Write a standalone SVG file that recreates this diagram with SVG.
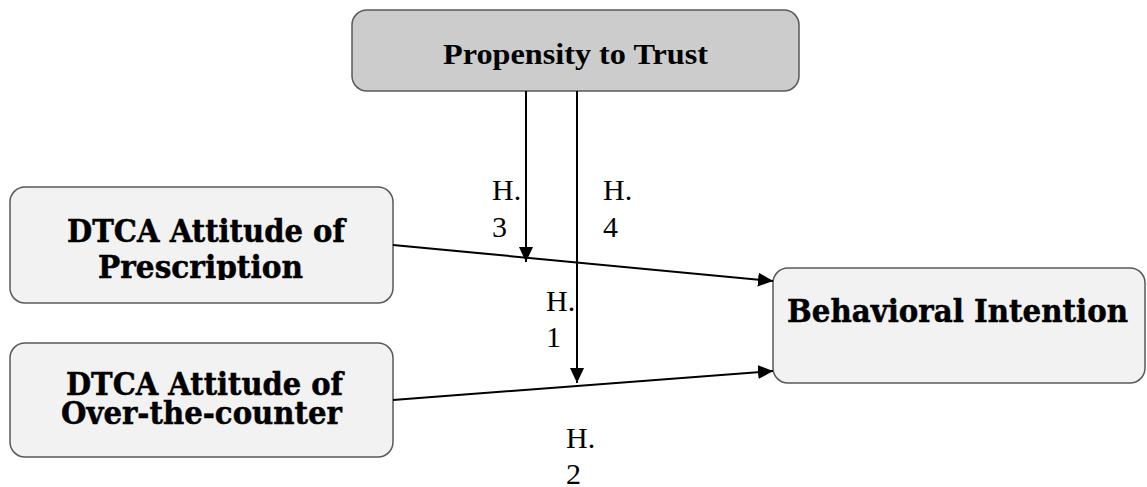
<svg xmlns="http://www.w3.org/2000/svg" width="1147" height="487" viewBox="0 0 1147 487">
<style>
.box{stroke:#595959;stroke-width:1.5}
.gray{fill:#cccccc}
.light{fill:#f2f2f2}
.node{font-family:"DejaVu Serif",serif;font-weight:bold;font-size:32px;fill:#000;stroke:#000;stroke-width:0.5}
.conn{stroke:#000;stroke-width:2;fill:none}
</style>
<defs>
<marker id="arr" markerUnits="userSpaceOnUse" markerWidth="16" markerHeight="15" refX="15" refY="7" orient="auto">
<path d="M0,0 L15,7 L0,14 z" fill="#000"/>
</marker>
<clipPath id="clipP"><rect x="10" y="187" width="383" height="93"/></clipPath>
</defs>
<g id="node-trust">
<rect class="box gray" x="352" y="10" width="447" height="81" rx="15"/>
<text x="443" y="64" font-family="Times New Roman, Liberation Serif, serif" font-weight="bold" font-size="30" textLength="265" lengthAdjust="spacingAndGlyphs">Propensity to Trust</text>
</g>
<g id="node-prescription">
<rect class="box light" x="10" y="187" width="383" height="116" rx="15"/>
<g clip-path="url(#clipP)">
<text class="node" x="67" y="242" textLength="278" lengthAdjust="spacingAndGlyphs">DTCA Attitude of</text>
<text class="node" x="98" y="278" textLength="205" lengthAdjust="spacingAndGlyphs">Prescription</text>
</g>
</g>
<g id="node-otc">
<rect class="box light" x="10" y="343" width="383" height="114" rx="15"/>
<text class="node" x="66" y="395" textLength="277" lengthAdjust="spacingAndGlyphs">DTCA Attitude of</text>
<text class="node" x="61" y="424" textLength="281" lengthAdjust="spacingAndGlyphs">Over-the-counter</text>
</g>
<g id="node-bi">
<rect class="box light" x="773" y="268" width="372" height="115" rx="15"/>
<text class="node" x="787" y="322" textLength="341" lengthAdjust="spacingAndGlyphs">Behavioral Intention</text>
</g>
<g id="connectors">
<line class="conn" x1="393" y1="245" x2="773" y2="281" marker-end="url(#arr)"/>
<line class="conn" x1="393" y1="400" x2="773" y2="371" marker-end="url(#arr)"/>
<line class="conn" x1="526" y1="91" x2="526" y2="262" marker-end="url(#arr)"/>
<line class="conn" x1="577" y1="91" x2="577" y2="383" marker-end="url(#arr)"/>
</g>
<g id="labels" font-family="Liberation Serif, Times New Roman, serif" font-size="30" fill="#000">
<text x="492" y="200">H.</text>
<text x="492" y="237">3</text>
<text x="603" y="200">H.</text>
<text x="603" y="237">4</text>
<text x="546" y="311">H.</text>
<text x="546" y="347">1</text>
<text x="566" y="448">H.</text>
<text x="566" y="484">2</text>
</g>
</svg>
